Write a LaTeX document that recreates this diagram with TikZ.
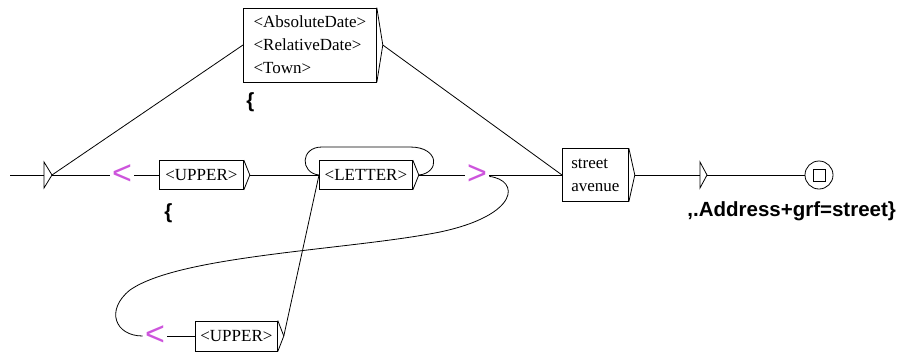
\documentclass[tikz,border=0pt]{standalone}
\usepackage{fontspec}
\setmainfont{Liberation Serif}
\newfontfamily\outfont{Liberation Sans}
\usetikzlibrary{positioning,calc}
\definecolor{ctxmag}{RGB}{205,85,220}
\newcommand{\boxfont}{\fontsize{17}{23}\selectfont}
\newcommand{\grfout}{\outfont\bfseries\fontsize{20.5}{22}\selectfont}

\begin{document}
\begin{tikzpicture}[
        x=1pt, y=-1pt,
        line width=0.8pt,
        % Global Styles
        grfbox/.style={rectangle, draw, anchor=west, align=left, inner sep=3pt, font=\boxfont},
        ctx/.style={text=ctxmag, font=\outfont\fontsize{34}{34}\selectfont, inner sep=2pt},
        output/.style={font=\grfout, inner sep=0pt}
    ]
    \useasboundingbox (0,0) rectangle (903,354);

    % --- Initial state ---
    \coordinate (entry) at (10,175);
    \coordinate (init) at (44,175);
    \coordinate (init-o) at (52,175);
    \draw (44,162) -- (init-o) -- (44,188) -- cycle;

    % --- Boxes ---
    \node (top) [grfbox, minimum width=133, minimum height=74] at (243,45) {<AbsoluteDate>\\<RelativeDate>\\<Town>};
    \node (up1) [grfbox, minimum width=84, minimum height=29] at (159,175) {<UPPER>};
    \node (letter) [grfbox, minimum width=93, minimum height=29] at (319,175) {<LETTER>};
    \node (street) [grfbox, minimum width=66, minimum height=53] at (562,175) {street\\avenue};
    \node (up2) [grfbox, minimum width=82, minimum height=30] at (195,336) {<UPPER>};

    % box outputs (little triangles)
    \foreach \b in {top,up1,letter,street,up2} {
        \draw (\b.north east) -- ([xshift=6pt]\b.east) -- (\b.south east);
        \coordinate (\b-o) at ([xshift=6pt]\b.east);
    }

    % --- Context marks ---
    \node (lt1) [ctx] at (122,175) {<};
    \node (gt)  [ctx] at (477,175) {>};
    \node (lt2) [ctx] at (155,336) {<};

    % --- Outputs ---
    \node (out1) [output, anchor=north west] at (246,92) {\{};
    \node (out2) [output, anchor=north west] at (164,203) {\{};

    % --- Empty box and final state ---
    \coordinate (eps) at (700,175);
    \coordinate (eps-o) at (707,175);
    \draw (700,162) -- (eps-o) -- (700,188) -- cycle;
    \node (out3) [output, anchor=base west] at (687,216) {,.Address+grf=street\}};
    \node (final) [circle, draw, minimum size=28, inner sep=0pt] at (819,175) {};
    \node (finalsq) [rectangle, draw, minimum size=12, inner sep=0pt] at (final.center) {};

    % --- Transitions ---
    \draw (entry) -- (init);
    \draw (init-o) -- (lt1);
    \draw (init-o) -- (top.west);
    \draw (lt1) -- (up1.west);
    \draw (up1-o) -- (letter.west);
    \draw (letter-o) -- (gt);
    \draw (gt) -- (street.west);
    \draw (top-o) -- (street.west);
    \draw (lt2) -- (up2.west);
    \draw (up2-o) -- (letter.west);
    \draw (street-o) -- (eps);
    \draw (eps-o) -- (final);

    % loop on <LETTER>
    \draw (letter-o) .. controls (440,173) and (440,147) .. (410,147) -- (322,147)
        .. controls (300,147) and (300,173) .. (letter.west);

    % back to the lower <UPPER>
    \draw (gt) .. controls (520,180) and (520,215) .. (440,232)
        .. controls (350,250) and (180,255) .. (130,290)
        .. controls (105,310) and (115,336) .. (lt2);

\end{tikzpicture}
\end{document}
